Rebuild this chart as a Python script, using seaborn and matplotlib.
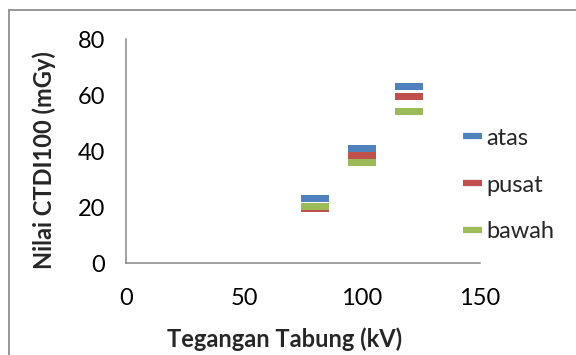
import matplotlib
matplotlib.use("Agg")
import matplotlib.pyplot as plt
from matplotlib.lines import Line2D
import seaborn as sns
import pandas as pd

tegangan = [80, 100, 120]
atas = [22.9, 40.8, 62.9]
pusat = [19.3, 38.3, 59.5]
bawah = [20.2, 35.8, 54.0]
series_names = ["atas", "pusat", "bawah"]
colors = ["#4F81BD", "#C0504D", "#9BBB59"]

df = pd.DataFrame({
    "kV": tegangan * 3,
    "val": atas + pusat + bawah,
    "seri": [n for n in series_names for _ in tegangan],
})

sns.set_style("white")
plt.rcParams['font.family'] = ['Lato', 'DejaVu Sans']

fig = plt.figure(figsize=(5.76, 3.55), dpi=100)
ax = fig.add_axes([126/576, 1 - 263/355, (480-126)/576, (263-39)/355])

rect = [(-1, -0.25), (1, -0.25), (1, 0.25), (-1, 0.25), (-1, -0.25)]
sns.scatterplot(data=df, x="kV", y="val", hue="seri", palette=colors,
                hue_order=series_names, marker=rect, s=400, linewidth=0,
                legend=False, ax=ax, zorder=3)

ax.set_xlim(0, 150)
ax.set_ylim(0, 80)
ax.set_xticks([0, 50, 100, 150])
ax.set_yticks([0, 20, 40, 60, 80])
for s in ["top", "right"]:
    ax.spines[s].set_visible(False)
for s in ["left", "bottom"]:
    ax.spines[s].set_color("#868686")
    ax.spines[s].set_linewidth(1.1)
ax.tick_params(axis="both", direction="out", length=5, width=1.1, color="#868686",
               labelsize=17, labelcolor="black")
ax.tick_params(axis="y", pad=10)
ax.tick_params(axis="x", pad=13)
ax.set_xlabel("")
ax.set_ylabel("")

fig.text(285/576, 1 - 339/355, "Tegangan Tabung (kV)", ha="center", va="center",
         fontsize=17, fontweight="bold")
fig.text(44/576, 1 - 160/355, "Nilai CTDI100 (mGy)", ha="center", va="center",
         rotation=90, fontsize=17, fontweight="bold")

handles = [Line2D([], [], color=c, lw=4.5, solid_capstyle="butt") for c in colors]
fig.legend(handles, series_names, loc="center left",
           bbox_to_anchor=(451/576, 1 - 185/355), frameon=False, fontsize=17,
           handlelength=0.8, handletextpad=0.2, labelspacing=1.1, borderpad=0)

fig.add_artist(Line2D([8.5/576, 8.5/576], [0, 1 - 10/355], color="#868686", lw=1.2))
fig.add_artist(Line2D([8.5/576, 1], [1 - 10/355, 1 - 10/355], color="#868686", lw=1.2))

fig.savefig("out.png", dpi=100)
